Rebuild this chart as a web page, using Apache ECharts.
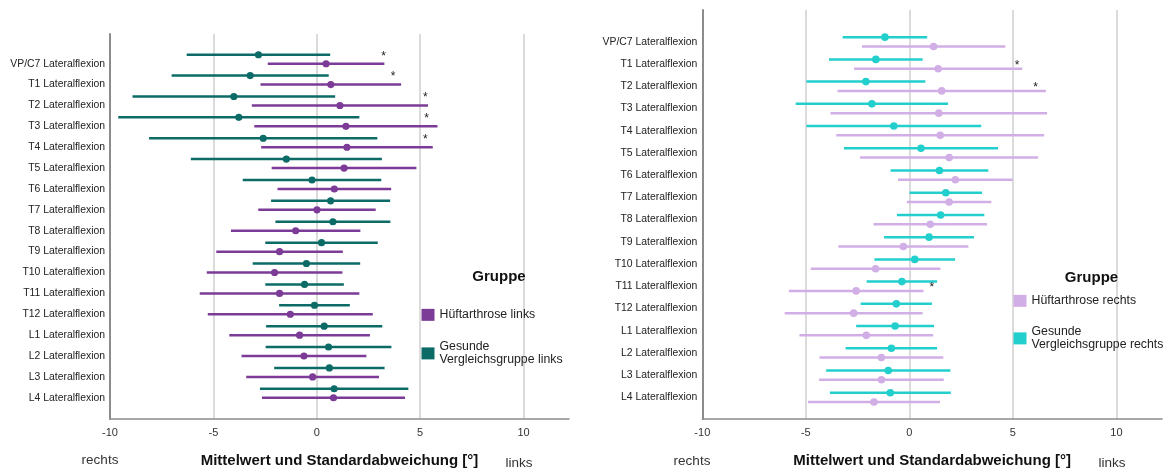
<!DOCTYPE html>
<html>
<head>
<meta charset="utf-8">
<script src="https://cdn.jsdelivr.net/npm/echarts@6/dist/echarts.min.js"></script>
<style>
  html, body { margin: 0; padding: 0; background: #ffffff; }
  #chart { width: 1169px; height: 473px; }
</style>
</head>
<body>
<div id="chart"></div>
<script>
// Segments of the spine, top to bottom
const categories = [
  'VP/C7 Lateralflexion', 'T1 Lateralflexion', 'T2 Lateralflexion', 'T3 Lateralflexion',
  'T4 Lateralflexion', 'T5 Lateralflexion', 'T6 Lateralflexion', 'T7 Lateralflexion',
  'T8 Lateralflexion', 'T9 Lateralflexion', 'T10 Lateralflexion', 'T11 Lateralflexion',
  'T12 Lateralflexion', 'L1 Lateralflexion', 'L2 Lateralflexion', 'L3 Lateralflexion',
  'L4 Lateralflexion'
];

// Left side: mean and standard deviation [°]
const leftPatientMean = [0.45, 0.68, 1.12, 1.41, 1.46, 1.32, 0.85, 0.01, -1.02, -1.80, -2.04, -1.80, -1.28, -0.83, -0.62, -0.20, 0.81];
const leftPatientSd   = [2.82, 3.40, 4.26, 4.43, 4.15, 3.50, 2.75, 2.84, 3.13, 3.06, 3.28, 3.86, 3.99, 3.40, 3.02, 3.21, 3.46];
const leftControlMean = [-2.82, -3.22, -4.01, -3.77, -2.59, -1.47, -0.23, 0.67, 0.78, 0.23, -0.50, -0.59, -0.11, 0.36, 0.57, 0.61, 0.84];
const leftControlSd   = [3.47, 3.80, 4.90, 5.83, 5.52, 4.62, 3.35, 2.88, 2.78, 2.72, 2.60, 1.90, 1.71, 2.81, 3.04, 2.67, 3.59];

// Right side: mean and standard deviation [°]
const rightPatientMean = [1.17, 1.39, 1.56, 1.42, 1.49, 1.92, 2.22, 1.92, 1.01, -0.29, -1.63, -2.57, -2.69, -2.08, -1.35, -1.35, -1.71];
const rightPatientSd   = [3.46, 4.06, 5.03, 5.23, 5.02, 4.30, 2.77, 2.04, 2.74, 3.14, 3.13, 3.25, 3.33, 3.23, 2.99, 3.01, 3.19];
const rightControlMean = [-1.18, -1.62, -2.10, -1.81, -0.75, 0.56, 1.45, 1.76, 1.51, 0.95, 0.26, -0.36, -0.63, -0.69, -0.87, -1.02, -0.92];
const rightControlSd   = [2.04, 2.26, 2.87, 3.68, 4.22, 3.72, 2.36, 1.75, 2.11, 2.17, 1.95, 1.70, 1.72, 1.88, 2.21, 3.00, 2.92];

// Significance markers: segment and horizontal position
const leftStarCats  = ['VP/C7 Lateralflexion', 'T1 Lateralflexion', 'T2 Lateralflexion', 'T3 Lateralflexion', 'T4 Lateralflexion'];
const leftStarX     = [3.23, 3.69, 5.25, 5.31, 5.25];
const rightStarCats = ['T1 Lateralflexion', 'T2 Lateralflexion', 'T11 Lateralflexion'];
const rightStarX    = [5.2, 6.1, 1.08];

// Value axis
const xMin = -10, xMax = 12.2, xStep = 5;

const groupNames = {
  leftPatient: 'Hüftarthrose links',
  leftControl: 'Gesunde\nVergleichsgruppe links',
  rightPatient: 'Hüftarthrose rechts',
  rightControl: 'Gesunde\nVergleichsgruppe rechts'
};
const colors = {
  leftPatient: '#7b3b96',
  leftControl: '#0c6b66',
  rightPatient: '#d2aee6',
  rightControl: '#22cfcc'
};

const FONT = "'Liberation Sans', Arial, sans-serif";

function barData(mean, sd) {
  return categories.map((c, i) => [i, mean[i] - sd[i], mean[i] + sd[i], mean[i]]);
}

// Horizontal mean ± SD bar with a dot at the mean, shifted vertically by dy pixels
function errorBar(dy, color, lineWidth, radius) {
  return function (params, api) {
    const cat = api.value(0);
    const lo = api.coord([api.value(1), cat]);
    const hi = api.coord([api.value(2), cat]);
    const mid = api.coord([api.value(3), cat]);
    const y = lo[1] + dy;
    return {
      type: 'group',
      children: [
        { type: 'line', shape: { x1: lo[0], y1: y, x2: hi[0], y2: y },
          style: { stroke: color, lineWidth: lineWidth } },
        { type: 'circle', shape: { cx: mid[0], cy: y, r: radius },
          style: { fill: color } }
      ]
    };
  };
}

function starMark(dy) {
  return function (params, api) {
    const p = api.coord([api.value(0), api.value(1)]);
    return {
      type: 'text', x: p[0], y: p[1] + dy,
      style: { text: '*', fill: '#222', font: '12px ' + FONT, align: 'center', verticalAlign: 'middle' }
    };
  };
}

function barSeries(name, key, mean, sd, axisIdx, dy, lw, r) {
  return {
    type: 'custom', name: name, silent: true, clip: false,
    xAxisIndex: axisIdx, yAxisIndex: axisIdx,
    itemStyle: { color: colors[key] },
    encode: { x: [1, 2, 3], y: 0 },
    renderItem: errorBar(dy, colors[key], lw, r),
    data: barData(mean, sd)
  };
}

function starSeries(cats, xs, axisIdx, dy) {
  return {
    type: 'custom', silent: true, clip: false,
    xAxisIndex: axisIdx, yAxisIndex: axisIdx,
    encode: { x: 0, y: 1 },
    renderItem: starMark(dy),
    data: cats.map((c, i) => [xs[i], categories.indexOf(c)])
  };
}

// Frame axes (grid lines, ticks, title) and data axes (segment labels) per panel
function frameX(gridIndex) {
  return {
    type: 'value', gridIndex: gridIndex, min: xMin, max: xMax, interval: xStep,
    name: 'Mittelwert und Standardabweichung [°]', nameLocation: 'middle', nameGap: 34,
    nameTextStyle: { fontFamily: FONT, fontSize: 15, fontWeight: 'bold', color: '#111' },
    axisLine: { show: true, lineStyle: { color: '#8c8c8c', width: 1.5 } },
    axisTick: { show: false },
    axisLabel: { fontFamily: FONT, fontSize: 11, color: '#333', margin: 8, showMaxLabel: false },
    splitLine: { show: true, showMaxLine: false, lineStyle: { color: '#cfcfcf', width: 1.5 } }
  };
}
function frameY(gridIndex) {
  return {
    type: 'value', gridIndex: gridIndex, min: 0, max: 1,
    axisLine: { show: true, onZero: false, lineStyle: { color: '#8c8c8c', width: 2 } },
    axisTick: { show: false }, axisLabel: { show: false }, splitLine: { show: false }
  };
}
function dataX(gridIndex) {
  return { type: 'value', gridIndex: gridIndex, min: xMin, max: xMax, show: false };
}
function dataY(gridIndex) {
  return {
    type: 'category', gridIndex: gridIndex, data: categories, inverse: true,
    axisLine: { show: false }, axisTick: { show: false }, splitLine: { show: false },
    axisLabel: { fontFamily: FONT, fontSize: 10.4, color: '#222', margin: 5 }
  };
}

function legendFor(names, left, top, gap) {
  return {
    data: names, orient: 'vertical', left: left, top: top, itemGap: gap, padding: 0,
    icon: 'rect', itemWidth: 13, itemHeight: 12, selectedMode: false, z: 10,
    textStyle: { fontFamily: FONT, fontSize: 12.3, lineHeight: 12.7, color: '#222' }
  };
}

function label(text, x, y, font, fill) {
  return { type: 'text', x: x, y: y, z: 100,
    style: { text: text, font: font, fill: fill, align: 'center', verticalAlign: 'middle' } };
}

const chart = echarts.init(document.getElementById('chart'), null, { renderer: 'canvas' });

chart.setOption({
  animation: false,
  backgroundColor: '#ffffff',
  grid: [
    { left: 110, right: 600, top: 34, bottom: 49 },        // left frame
    { left: 110, right: 600, top: 53.3, height: 354.9 },   // left data
    { left: 702.3, right: 7, top: 10, bottom: 48 },        // right frame
    { left: 702.3, right: 7, top: 30.7, height: 377.8 }    // right data
  ],
  xAxis: [frameX(0), dataX(1), frameX(2), dataX(3)],
  yAxis: [frameY(0), dataY(1), frameY(2), dataY(3)],
  legend: [
    legendFor([groupNames.leftPatient, groupNames.leftControl], 421.5, 308.5, 19.5),
    legendFor([groupNames.rightPatient, groupNames.rightControl], 1013.5, 294.5, 18.5)
  ],
  graphic: [
    label('Gruppe', 499, 277, 'bold 15px ' + FONT, '#111'),
    label('Gruppe', 1091.5, 278, 'bold 15px ' + FONT, '#111'),
    label('rechts', 100, 460, '13.5px ' + FONT, '#333'),
    label('links', 519, 463, '13.5px ' + FONT, '#333'),
    label('rechts', 692, 461, '13.5px ' + FONT, '#333'),
    label('links', 1112, 463, '13.5px ' + FONT, '#333')
  ],
  series: [
    barSeries(groupNames.leftControl, 'leftControl', leftControlMean, leftControlSd, 1, -9, 2.5, 3.6),
    barSeries(groupNames.leftPatient, 'leftPatient', leftPatientMean, leftPatientSd, 1, 0, 2.5, 3.6),
    starSeries(leftStarCats, leftStarX, 1, -7.5),
    barSeries(groupNames.rightControl, 'rightControl', rightControlMean, rightControlSd, 3, -4.65, 2.5, 3.8),
    barSeries(groupNames.rightPatient, 'rightPatient', rightPatientMean, rightPatientSd, 3, 4.65, 2.5, 3.8),
    starSeries(rightStarCats, rightStarX, 3, 1.3)
  ]
});
</script>
</body>
</html>
